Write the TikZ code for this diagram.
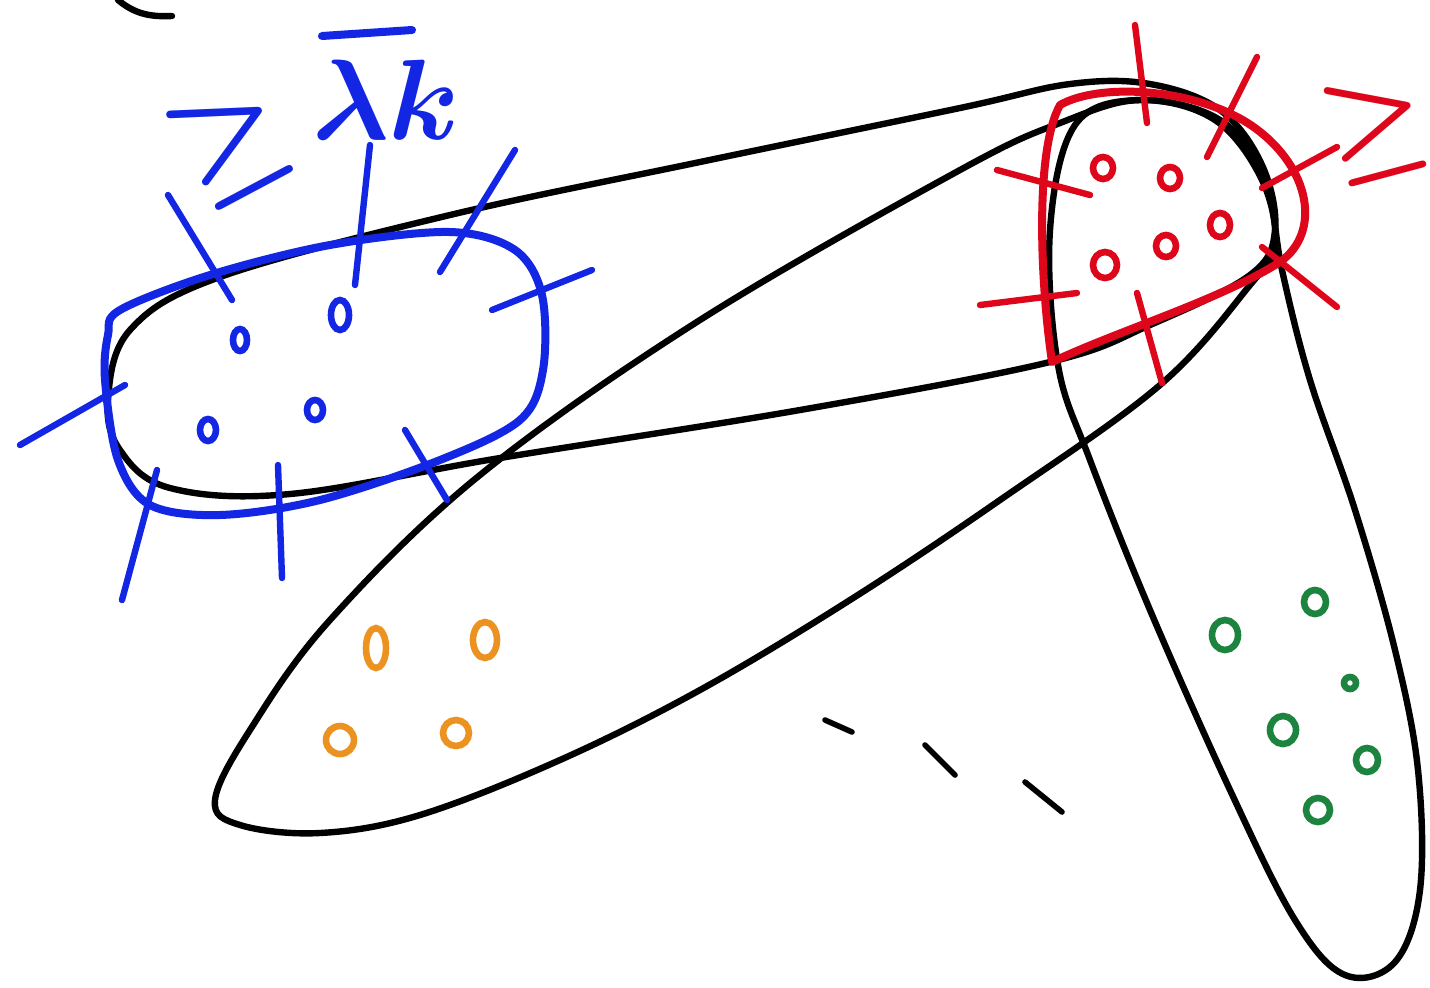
\documentclass[tikz,border=0pt]{standalone}
\usepackage{amsmath}
\tikzset{hull/.style={line width=3.2pt,line join=round},pen/.style={line width=4pt,line cap=round,line join=round},tick/.style={line width=3.2pt,line cap=round},pt/.style={line width=3.3pt}}
\definecolor{penblue}{RGB}{18,38,228}
\definecolor{penred}{RGB}{222,6,26}
\definecolor{penorange}{RGB}{236,146,32}
\definecolor{pengreen}{RGB}{28,132,62}

\begin{document}
\begin{tikzpicture}[x=.5pt,y=-.5pt]
\path[use as bounding box,fill=white] (0,0) rectangle (1430,987);
\draw[hull,line cap=round] (118,0) .. controls (135,14) and (150,17) .. (172,16);
\draw[hull] plot[smooth cycle,tension=.6] coordinates {(108,400) (130,330) (220,277) (450,215) (700,162) (960,108) (1070,84) (1150,84) (1220,110) (1262,165) (1275,230) (1250,275) (1150,325) (1050,362) (800,410) (500,458) (290,494) (170,488) (120,450)};
\draw[hull] plot[smooth cycle,tension=.6] coordinates {(215,800) (250,730) (330,620) (480,475) (700,320) (960,170) (1060,123) (1140,100) (1215,120) (1262,180) (1275,245) (1250,285) (1160,385) (1000,500) (850,600) (700,690) (560,760) (420,815) (320,833) (240,825)};
\draw[hull] plot[smooth cycle,tension=.6] coordinates {(1058,365) (1090,460) (1150,610) (1230,790) (1295,920) (1345,975) (1395,962) (1420,890) (1418,770) (1395,650) (1355,510) (1310,380) (1282,270) (1265,180) (1220,120) (1140,100) (1075,125) (1050,230)};
\draw[hull,line width=2.8pt,line cap=round] (825,720) -- (852,732);
\draw[hull,line width=2.8pt,line cap=round] (925,745) -- (955,775);
\draw[hull,line width=2.8pt,line cap=round] (1025,782) -- (1062,812);
% blue set
\draw[pen,penblue] plot[smooth cycle,tension=.55] coordinates {(120,310) (210,275) (330,245) (450,232) (515,250) (542,295) (543,370) (520,420) (440,460) (320,500) (220,515) (150,505) (118,460) (105,380) (108,335)};
\draw[tick,penblue] (168,195) -- (232,300);
\draw[tick,penblue] (370,145) -- (355,285);
\draw[tick,penblue] (515,150) -- (440,272);
\draw[tick,penblue] (592,270) -- (492,310);
\draw[tick,penblue] (20,445) -- (125,385);
\draw[tick,penblue] (405,430) -- (447,500);
\draw[tick,penblue] (278,465) -- (282,578);
\draw[tick,penblue] (157,470) -- (122,600);
\draw[pt,penblue] (240,340) ellipse (7 and 11);
\draw[pt,penblue] (340,315) ellipse (9 and 15);
\draw[pt,penblue] (208,430) ellipse (8 and 11);
\draw[pt,penblue] (315,410) ellipse (8 and 10);
\node[penblue,inner sep=0pt,rotate=28,font=\Huge] (blueGe) at (230,142) {\scalebox{2.5}{$\boldsymbol{\geq}$}};
\node[penblue,inner sep=0pt,font=\Huge] (blueLam) at (386,100) {\scalebox{2.3}{$\boldsymbol{\lambda k}$}};
\draw[tick,penblue,line width=4pt] (322,36) -- (412,30);
% red set
\draw[pen,penred] (1052,362) .. controls (1040,280) and (1035,150) .. (1060,105) .. controls (1100,82) and (1200,88) .. (1255,128) .. controls (1310,168) and (1322,232) .. (1280,262) .. controls (1220,300) and (1120,330) .. cycle;
\draw[tick,penred] (1135,25) -- (1147,123);
\draw[tick,penred] (1257,57) -- (1207,157);
\draw[tick,penred] (1337,147) -- (1262,188);
\draw[tick,penred] (1262,247) -- (1337,307);
\draw[tick,penred] (997,170) -- (1090,195);
\draw[tick,penred] (980,305) -- (1077,293);
\draw[tick,penred] (1137,293) -- (1162,383);
\draw[pt,penred] (1103,168) ellipse (10 and 11);
\draw[pt,penred] (1170,178) ellipse (10 and 11);
\draw[pt,penred] (1220,225) ellipse (10 and 12);
\draw[pt,penred] (1166,246) ellipse (10 and 11);
\draw[pt,penred] (1105,265) ellipse (12 and 13);
\node[penred,inner sep=0pt,rotate=15,font=\Huge] (redGe) at (1376,128) {\scalebox{2.3}{$\boldsymbol{\geq}$}};
% orange set
\draw[pt,penorange] (376,648) ellipse (10 and 20);
\draw[pt,penorange] (485,640) ellipse (12 and 18);
\draw[pt,penorange] (340,740) ellipse (14 and 14);
\draw[pt,penorange] (456,733) ellipse (13 and 13);
% green set
\draw[pt,pengreen] (1225,635) ellipse (13 and 15);
\draw[pt,pengreen] (1315,602) ellipse (11 and 12);
\draw[pt,pengreen] (1350,683) ellipse (6 and 6);
\draw[pt,pengreen] (1283,730) ellipse (13 and 14);
\draw[pt,pengreen] (1367,760) ellipse (11 and 12);
\draw[pt,pengreen] (1318,810) ellipse (12 and 12);
\end{tikzpicture}
\end{document}
